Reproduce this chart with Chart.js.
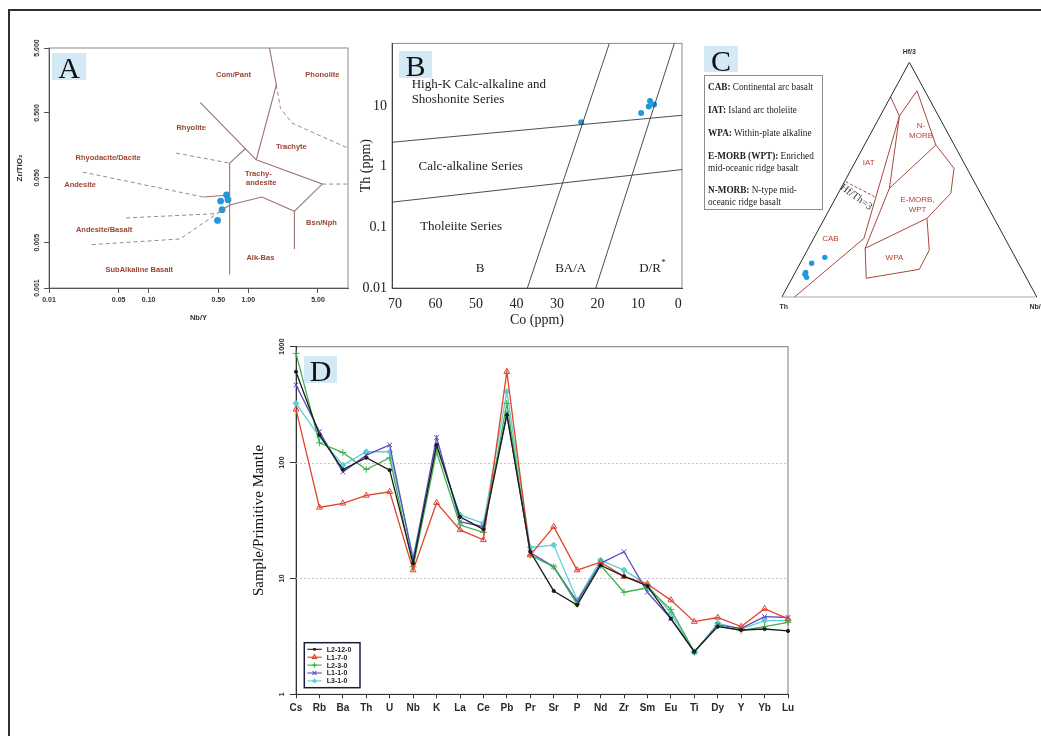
<!DOCTYPE html>
<html>
<head>
<meta charset="utf-8">
<title>Geochemical diagrams</title>
<script src="https://cdn.jsdelivr.net/npm/chart.js@4.4.1/dist/chart.umd.min.js"></script>
<style>
  html, body { margin: 0; padding: 0; background: #fff; }
  body { position: relative; width: 1041px; height: 736px; overflow: hidden; }
  #frame { position: absolute; left: 8px; top: 9px; width: 1100px; height: 800px;
           border-left: 2px solid #303030; border-top: 2px solid #303030; }
  canvas { position: absolute; }
  .tag { position: absolute; background: #d4e9f6; color: #111; text-align: center;
         font-family: "Liberation Serif", "Times New Roman", serif; font-size: 30px; }
  #key { position: absolute; left: 704px; top: 75px; width: 117px; height: 133px;
         border: 1px solid #8c8c8c; background: #fff;
         font-family: "Liberation Serif", "Times New Roman", serif; font-size: 10px; color: #222; }
  #key div { position: absolute; left: 3px; line-height: 12px; white-space: nowrap;
             transform: scaleX(0.92); transform-origin: left center; }
</style>
</head>
<body>
<div id="frame"></div>
<canvas id="chartA" width="355" height="300" style="left:0;top:30px"></canvas>
<canvas id="chartB" width="350" height="300" style="left:350px;top:30px"></canvas>
<canvas id="chartC" width="341" height="300" style="left:700px;top:30px"></canvas>
<canvas id="chartD" width="600" height="400" style="left:230px;top:335px"></canvas>
<div class="tag" style="left:52px;top:53px;width:34px;height:27px;line-height:30px">A</div>
<div class="tag" style="left:399px;top:51px;width:33px;height:27px;line-height:30px">B</div>
<div class="tag" style="left:704px;top:46px;width:34px;height:26px;line-height:29px">C</div>
<div class="tag" style="left:304px;top:356px;width:33px;height:27px;line-height:30px">D</div>
<div id="key">
  <div style="top:5px"><b>CAB:</b> Continental arc basalt</div>
  <div style="top:28px"><b>IAT:</b> Island arc tholeiite</div>
  <div style="top:51px"><b>WPA:</b> Within-plate alkaline</div>
  <div style="top:74px"><b>E-MORB (WPT):</b> Enriched</div>
  <div style="top:86px">mid-oceanic ridge basalt</div>
  <div style="top:108px"><b>N-MORB:</b> N-type mid-</div>
  <div style="top:120px">oceanic ridge basalt</div>
</div>
<script>
// ---------- A: Nb/Y vs Zr/TiO2 ----------
const sampleNbY = [0.605, 0.527, 0.625, 0.545, 0.491];
const sampleZrTiO2 = [0.0271, 0.0219, 0.0230, 0.0161, 0.0110];
const aXTicks = [0.01, 0.05, 0.1, 0.5, 1, 5];
const aXLabels = ['0.01', '0.05', '0.10', '0.50', '1.00', '5.00'];
const aYTicks = [0.001, 0.005, 0.05, 0.5, 5];
const aYLabels = ['0.001', '0.005', '0.050', '0.500', '5.000'];
// field boundaries [Nb/Y, Zr/TiO2]
const aSolid = [
  [[0.330, 0.719], [1.20, 0.0946]],
  [[1.20, 0.0946], [1.91, 1.35], [1.63, 5]],
  [[0.649, 0.0841], [0.933, 0.140]],
  [[0.649, 0.0841], [0.649, 0.00161]],
  [[1.20, 0.0946], [5.51, 0.0400], [2.90, 0.0152], [2.90, 0.0040]],
  [[2.90, 0.0152], [1.37, 0.0252], [0.649, 0.0190], [0.484, 0.0140]],
  [[0.356, 0.0252], [0.649, 0.0271]]
];
const aDashed = [
  [[0.189, 0.120], [0.649, 0.0841]],
  [[0.0218, 0.0612], [0.356, 0.0252]],
  [[0.0594, 0.0120], [0.484, 0.0140]],
  [[0.0268, 0.00466], [0.207, 0.0057], [0.484, 0.0140]],
  [[1.91, 1.35], [2.10, 0.590], [2.75, 0.347], [10, 0.143]],
  [[5.51, 0.0400], [10, 0.0400]]
];
const aFieldNames = ['Com/Pant', 'Phonolite', 'Rhyolite', 'Trachyte', 'Rhyodacite/Dacite', 'Andesite',
  'Trachy-', 'andesite', 'Andesite/Basalt', 'Bsn/Nph', 'Alk-Bas', 'SubAlkaline Basalt'];
const aFieldX = [0.71, 5.54, 0.267, 2.70, 0.0392, 0.0205, 1.26, 1.35, 0.0357, 5.42, 1.32, 0.0804];
const aFieldY = [1.92, 1.92, 0.294, 0.150, 0.1016, 0.039, 0.0577, 0.0423, 0.00792, 0.0102, 0.00294, 0.00192];

// ---------- B: Co vs Th ----------
const sampleCo = [24.0, 9.2, 7.3, 7.0, 6.0];
const sampleTh = [5.43, 7.73, 9.84, 12.2, 10.7];
const bXTicks = [0, 10, 20, 30, 40, 50, 60, 70];
const bYTicks = [0.01, 0.1, 1, 10];
const bYLabels = ['0.01', '0.1', '1', '10'];
const bLines = [
  [[70.75, 2.54], [-0.9, 7.08]],
  [[70.75, 0.261], [-0.9, 0.90]],
  [[37.3, 0.01], [17.05, 108.7]],
  [[20.4, 0.01], [0.99, 108.7]]
];
const bSeriesNames = ['High-K Calc-alkaline and', 'Shoshonite Series', 'Calc-alkaline Series', 'Tholeiite Series'];
const bSeriesCo = [65.9, 65.9, 64.2, 63.8];
const bSeriesTh = [23.0, 13.0, 1.02, 0.102];
const bRockNames = ['B', 'BA/A', 'D/R'];
const bRockCo = [49.0, 26.6, 7.0];
const bRockTh = [0.0211, 0.0211, 0.0211];

// ---------- C: Hf/3 - Th - Nb/16 ----------
const sampleHf3 = [0.170, 0.145, 0.106, 0.085, 0.098];
const sampleTh3 = [0.746, 0.811, 0.853, 0.860, 0.860];
const sampleNb16 = [0.084, 0.045, 0.041, 0.055, 0.042];
// field boundaries in triangle plot units (x across base, y toward Hf/3)
const cTriangle = [[0, 0], [1, 0], [0.5, 1], [0, 0]];
const cFields = [
  [[0.049, 0], [0.322, 0.251], [0.461, 0.771]],
  [[0.426, 0.854], [0.461, 0.771]],
  [[0.461, 0.771], [0.530, 0.879], [0.604, 0.648], [0.422, 0.464], [0.461, 0.771]],
  [[0.422, 0.464], [0.327, 0.2085]],
  [[0.604, 0.648], [0.675, 0.549], [0.6625, 0.4426], [0.569, 0.336], [0.327, 0.2085]],
  [[0.327, 0.2085], [0.331, 0.081], [0.539, 0.119], [0.578, 0.201], [0.569, 0.336]]
];
const cHfTh3 = [[0.2506, 0.492], [0.364, 0.428]];
const cFieldNames = ['IAT', 'N-', 'MORB', 'E-MORB,', 'WPT', 'CAB', 'WPA'];
const cFieldX = [0.341, 0.546, 0.546, 0.532, 0.532, 0.191, 0.4415];
const cFieldY = [0.573, 0.729, 0.686, 0.414, 0.371, 0.251, 0.166];

// ---------- D: spider diagram ----------
const elements = ['Cs', 'Rb', 'Ba', 'Th', 'U', 'Nb', 'K', 'La', 'Ce', 'Pb', 'Pr', 'Sr', 'P', 'Nd', 'Zr', 'Sm', 'Eu', 'Ti', 'Dy', 'Y', 'Yb', 'Lu'];
const sL2_12_0 = [608, 173, 87, 110, 86, 13.5, 142, 34, 26.5, 257, 17, 7.8, 5.9, 13, 10.4, 8.6, 4.5, 2.33, 3.84, 3.59, 3.66, 3.52];
const sL1_7_0 = [288, 41, 44.5, 52, 56, 11.8, 45, 26.2, 21.5, 608, 15.9, 28, 11.8, 13.8, 10.4, 8.95, 6.5, 4.24, 4.6, 3.84, 5.48, 4.47];
const sL2_3_0 = [875, 148, 122, 87, 110, 12.6, 124, 28.9, 25, 324, 15.9, 12.6, 6.0, 13, 7.6, 8.3, 5.4, 2.33, 3.91, 3.54, 3.84, 4.18];
const sL1_1_0 = [467, 185, 83, 116, 142, 14.4, 165, 30.9, 28, 266, 16.7, 12.6, 6.3, 13.5, 17, 7.6, 4.5, 2.33, 3.97, 3.71, 4.68, 4.6];
const sL3_1_0 = [324, 167, 95, 124, 124, 15.4, 137, 35.3, 29.9, 409, 18.5, 19.4, 6.5, 14.4, 11.8, 8.8, 5.0, 2.29, 4.1, 3.66, 4.33, 4.33];
const seriesNames = ['L2-12-0', 'L1-7-0', 'L2-3-0', 'L1-1-0', 'L3-1-0'];
const seriesValues = [sL2_12_0, sL1_7_0, sL2_3_0, sL1_1_0, sL3_1_0];
const dYTicks = [1, 10, 100, 1000];
const dYLabels = ['1', '10', '100', '1000'];
const dGuides = [10, 100];

// styles
const seriesColors = ['#1c1c1c', '#e2432c', '#3fb04b', '#5b4cbf', '#5fd0d2'];
const seriesMarkers = ['circle', 'triangle', 'cross', 'crossRot', 'rectRot'];
const BLUE = '#1f98de';
const SANS = '"Liberation Sans", Arial, sans-serif';
const SERIF = '"Liberation Serif", "Times New Roman", serif';

function pts(list) { return list.map(p => ({ x: p[0], y: p[1] })); }
function pairs(xs, ys) { return xs.map((x, i) => ({ x: x, y: ys[i] })); }
function edge(list, color, width, dash) {
  return { data: pts(list), showLine: true, borderColor: color, borderWidth: width,
           borderDash: dash || [], pointRadius: 0, fill: false };
}
function dots(data, r) {
  return { data: data, showLine: false, pointRadius: r, pointBackgroundColor: BLUE,
           pointBorderColor: BLUE, pointBorderWidth: 0 };
}
function ternary(hf, th, nb) {
  return hf.map((h, i) => {
    const s = h + th[i] + nb[i];
    return { x: nb[i] / s + h / s / 2, y: h / s };
  });
}

// plot box drawn under the axes
function plotBox(color) {
  return { id: 'plotBox', beforeDraw(chart) {
    const a = chart.chartArea, ctx = chart.ctx;
    ctx.save(); ctx.strokeStyle = color; ctx.lineWidth = 1;
    ctx.strokeRect(a.left, a.top, a.right - a.left, a.bottom - a.top);
    ctx.restore();
  }};
}
// rotated labels for the y ticks
function sideLabels(values, labels, x, font, color) {
  return { id: 'sideLabels', afterDraw(chart) {
    const ctx = chart.ctx, s = chart.scales.y;
    ctx.save(); ctx.font = font; ctx.fillStyle = color;
    ctx.textAlign = 'center'; ctx.textBaseline = 'middle';
    values.forEach((v, i) => {
      ctx.save(); ctx.translate(x, s.getPixelForValue(v)); ctx.rotate(-Math.PI / 2);
      ctx.fillText(labels[i], 0, 0); ctx.restore();
    });
    ctx.restore();
  }};
}
// text placed at data coordinates
function textAt(id, items, font, color) {
  return { id: id, afterDatasetsDraw(chart) {
    const { ctx, scales } = chart;
    ctx.save(); ctx.font = font; ctx.fillStyle = color; ctx.textBaseline = 'middle';
    items.forEach(t => {
      ctx.save();
      ctx.translate(scales.x.getPixelForValue(t.x) + (t.dx || 0), scales.y.getPixelForValue(t.y) + (t.dy || 0));
      if (t.rot) ctx.rotate(t.rot * Math.PI / 180);
      ctx.textAlign = t.align || 'center';
      ctx.fillText(t.text, 0, 0);
      if (t.sup) {
        const w = ctx.measureText(t.text).width;
        ctx.font = '9px ' + SERIF; ctx.textAlign = 'left';
        ctx.fillText(t.sup, w / 2 + 0.5, -6);
      }
      ctx.restore();
    });
    ctx.restore();
  }};
}
function named(names, xs, ys, extra) {
  return names.map((n, i) => Object.assign({ text: n, x: xs[i], y: ys[i] }, extra || {}));
}
function fixedTicks(values) {
  return s => { s.ticks = values.map(v => ({ value: v })); };
}

// ---------- chart A ----------
new Chart(document.getElementById('chartA'), {
  type: 'scatter',
  data: { datasets: [
    ...aSolid.map(l => edge(l, '#9c7272', 1.1)),
    ...aDashed.map(l => edge(l, '#a08585', 1, [4, 3])),
    dots(pairs(sampleNbY, sampleZrTiO2), 3.4)
  ]},
  options: {
    responsive: false, animation: false,
    layout: { padding: { top: 18, right: 7, left: 0, bottom: 0 } },
    plugins: { legend: { display: false }, tooltip: { enabled: false } },
    scales: {
      x: {
        type: 'logarithmic', min: 0.01, max: 10,
        afterFit: s => { s.height = 42; },
        afterBuildTicks: fixedTicks(aXTicks),
        ticks: { callback: (v, i) => aXLabels[i], autoSkip: false, maxRotation: 0, padding: 3,
                 color: '#333', font: { family: SANS, size: 7, weight: 'bold' } },
        grid: { drawOnChartArea: false, tickLength: 5, color: '#555' },
        border: { color: '#555' },
        title: { display: true, text: 'Nb/Y', color: '#333', padding: { top: 0, bottom: 8 },
                 font: { family: SANS, size: 7.5, weight: 'bold' } }
      },
      y: {
        type: 'logarithmic', min: 0.001, max: 5,
        afterFit: s => { s.width = 49; },
        afterBuildTicks: fixedTicks(aYTicks),
        ticks: { display: false },
        grid: { drawOnChartArea: false, tickLength: 5, color: '#555' },
        border: { color: '#555' },
        title: { display: true, text: 'Zr/TiO₂', color: '#333', padding: { top: 15, bottom: 0 },
                 font: { family: SANS, size: 8, weight: 'bold' } }
      }
    }
  },
  plugins: [
    plotBox('#8a8a8a'),
    sideLabels(aYTicks, aYLabels, 37.5, 'bold 7px ' + SANS, '#333'),
    textAt('aNames', named(aFieldNames, aFieldX, aFieldY), 'bold 7.5px ' + SANS, '#9a4530')
  ]
});

// ---------- chart B ----------
new Chart(document.getElementById('chartB'), {
  type: 'scatter',
  data: { datasets: [
    ...bLines.map(l => edge(l, '#3a3a3a', 0.9)),
    dots(pairs(sampleCo, sampleTh), 3)
  ]},
  options: {
    responsive: false, animation: false,
    layout: { padding: { top: 13, right: 18, left: 0, bottom: 0 } },
    plugins: { legend: { display: false }, tooltip: { enabled: false } },
    scales: {
      x: {
        type: 'linear', min: -0.9, max: 70.75, reverse: true,
        afterFit: s => { s.height = 42; },
        afterBuildTicks: fixedTicks(bXTicks),
        ticks: { autoSkip: false, maxRotation: 0, padding: 8, color: '#222',
                 font: { family: SERIF, size: 14 } },
        grid: { drawOnChartArea: false, drawTicks: false },
        border: { color: '#444' },
        title: { display: true, text: 'Co (ppm)', color: '#222', padding: { top: 0, bottom: 1.6 },
                 font: { family: SERIF, size: 14 } }
      },
      y: {
        type: 'logarithmic', min: 0.01, max: 108.7,
        afterFit: s => { s.width = 42; },
        afterBuildTicks: fixedTicks(bYTicks),
        ticks: { callback: (v, i) => bYLabels[i], padding: 5, color: '#222',
                 font: { family: SERIF, size: 14 } },
        grid: { drawOnChartArea: false, drawTicks: false },
        border: { color: '#444' },
        title: { display: true, text: 'Th (ppm)', color: '#222', padding: { top: 8, bottom: 0 },
                 font: { family: SERIF, size: 14 } }
      }
    }
  },
  plugins: [
    plotBox('#8a8a8a'),
    textAt('bSeries', named(bSeriesNames, bSeriesCo, bSeriesTh, { align: 'left' }), '13px ' + SERIF, '#222'),
    textAt('bRocks', named(bRockNames, bRockCo, bRockTh).map((t, i) => i === 2 ? Object.assign(t, { sup: '*' }) : t), '13px ' + SERIF, '#222')
  ]
});

// ---------- chart C ----------
new Chart(document.getElementById('chartC'), {
  type: 'scatter',
  data: { datasets: [
    edge(cTriangle, '#2a2a2a', 1),
    ...cFields.map(l => edge(l, '#a8473c', 1)),
    edge(cHfTh3, '#a8473c', 1, [3, 2]),
    dots(ternary(sampleHf3, sampleTh3, sampleNb16), 2.7)
  ]},
  options: {
    responsive: false, animation: false,
    layout: { padding: { top: 32.3, right: 2.7, left: 81.7, bottom: 32.7 } },
    plugins: { legend: { display: false }, tooltip: { enabled: false } },
    scales: {
      x: { type: 'linear', min: 0, max: 1, display: false },
      y: { type: 'linear', min: 0, max: 1, display: false }
    }
  },
  plugins: [
    textAt('cNames', named(cFieldNames, cFieldX, cFieldY), '8px ' + SANS, '#b8412e'),
    textAt('cCorners', [
      { text: 'Hf/3', x: 0.5, y: 1, dy: -10 },
      { text: 'Th', x: 0, y: 0, dx: 2, dy: 10 },
      { text: 'Nb/16', x: 1, y: 0, dx: 2, dy: 10 }
    ], 'bold 7px ' + SANS, '#333'),
    textAt('cRatio', [{ text: 'Hf/Th=3', x: 0.292, y: 0.426, rot: 36 }], '10.5px ' + SERIF, '#333')
  ]
});

// ---------- chart D ----------
function marker(ctx, style, x, y, r) {
  ctx.beginPath();
  if (style === 'circle') { ctx.arc(x, y, r * 0.6, 0, Math.PI * 2); ctx.fill(); }
  else if (style === 'triangle') {
    ctx.moveTo(x, y - r); ctx.lineTo(x + r * 0.87, y + r * 0.5); ctx.lineTo(x - r * 0.87, y + r * 0.5);
    ctx.closePath(); ctx.stroke();
  } else if (style === 'cross') {
    ctx.moveTo(x - r, y); ctx.lineTo(x + r, y); ctx.moveTo(x, y - r); ctx.lineTo(x, y + r); ctx.stroke();
  } else if (style === 'crossRot') {
    const d = r * 0.75;
    ctx.moveTo(x - d, y - d); ctx.lineTo(x + d, y + d); ctx.moveTo(x + d, y - d); ctx.lineTo(x - d, y + d); ctx.stroke();
  } else {
    ctx.moveTo(x, y - r); ctx.lineTo(x + r, y); ctx.lineTo(x, y + r); ctx.lineTo(x - r, y); ctx.closePath(); ctx.fill();
  }
}
const guideLines = {
  id: 'guideLines', beforeDatasetsDraw(chart) {
    const { ctx, chartArea: a, scales: { y } } = chart;
    ctx.save(); ctx.strokeStyle = '#c4c4c4'; ctx.lineWidth = 1; ctx.setLineDash([2, 2]);
    dGuides.forEach(v => {
      const py = Math.round(y.getPixelForValue(v)) + 0.5;
      ctx.beginPath(); ctx.moveTo(a.left, py); ctx.lineTo(a.right, py); ctx.stroke();
    });
    ctx.restore();
  }
};
const sampleKey = {
  id: 'sampleKey', afterDatasetsDraw(chart) {
    const { ctx, chartArea: a } = chart;
    const left = a.left + 8.3, top = a.bottom - 51.6, w = 55.7, h = 45;
    ctx.save();
    ctx.fillStyle = '#fff'; ctx.fillRect(left, top, w, h);
    ctx.strokeStyle = '#1d1d3a'; ctx.lineWidth = 1.5; ctx.strokeRect(left, top, w, h);
    chart.data.datasets.forEach((ds, i) => {
      const y = top + 6.6 + i * 7.9;
      ctx.strokeStyle = ds.borderColor; ctx.fillStyle = ds.borderColor; ctx.lineWidth = 1.1;
      ctx.beginPath(); ctx.moveTo(left + 3, y); ctx.lineTo(left + 17.5, y); ctx.stroke();
      marker(ctx, seriesMarkers[i], left + 10.2, y, 2.6);
      ctx.fillStyle = '#222'; ctx.font = 'bold 7px ' + SANS;
      ctx.textAlign = 'left'; ctx.textBaseline = 'middle';
      ctx.fillText(ds.label, left + 22.5, y + 0.5);
    });
    ctx.restore();
  }
};

new Chart(document.getElementById('chartD'), {
  type: 'line',
  data: {
    labels: elements,
    datasets: seriesNames.map((name, i) => ({
      label: name,
      data: seriesValues[i],
      borderColor: seriesColors[i],
      backgroundColor: seriesColors[i],
      borderWidth: 1.3,
      pointStyle: seriesMarkers[i],
      pointRadius: i === 0 ? 1.6 : (i === 4 ? 3 : 3.4),
      pointBorderWidth: 1,
      pointBackgroundColor: i === 1 ? 'rgba(0,0,0,0)' : seriesColors[i],
      pointBorderColor: seriesColors[i],
      tension: 0, fill: false
    }))
  },
  options: {
    responsive: false, animation: false,
    layout: { padding: { top: 11.7, right: 42, left: 0, bottom: 0 } },
    plugins: { legend: { display: false }, tooltip: { enabled: false } },
    scales: {
      x: {
        afterFit: s => { s.height = 40.7; },
        ticks: { autoSkip: false, maxRotation: 0, padding: 4, color: '#2a2a2a',
                 font: { family: SANS, size: 10, weight: 'bold' } },
        grid: { drawOnChartArea: false, tickLength: 4, color: '#333' },
        border: { color: '#333' }
      },
      y: {
        type: 'logarithmic', min: 1, max: 1000,
        afterFit: s => { s.width = 66; },
        afterBuildTicks: fixedTicks(dYTicks),
        ticks: { display: false },
        grid: { drawOnChartArea: false, tickLength: 6, color: '#333' },
        border: { color: '#333' },
        title: { display: true, text: 'Sample/Primitive Mantle', color: '#111', padding: { top: 20, bottom: 0 },
                 font: { family: SERIF, size: 15 } }
      }
    }
  },
  plugins: [
    plotBox('#7a7a7a'),
    guideLines,
    sideLabels(dYTicks, dYLabels, 52, 'bold 7.5px ' + SANS, '#333'),
    sampleKey
  ]
});
</script>
</body>
</html>
